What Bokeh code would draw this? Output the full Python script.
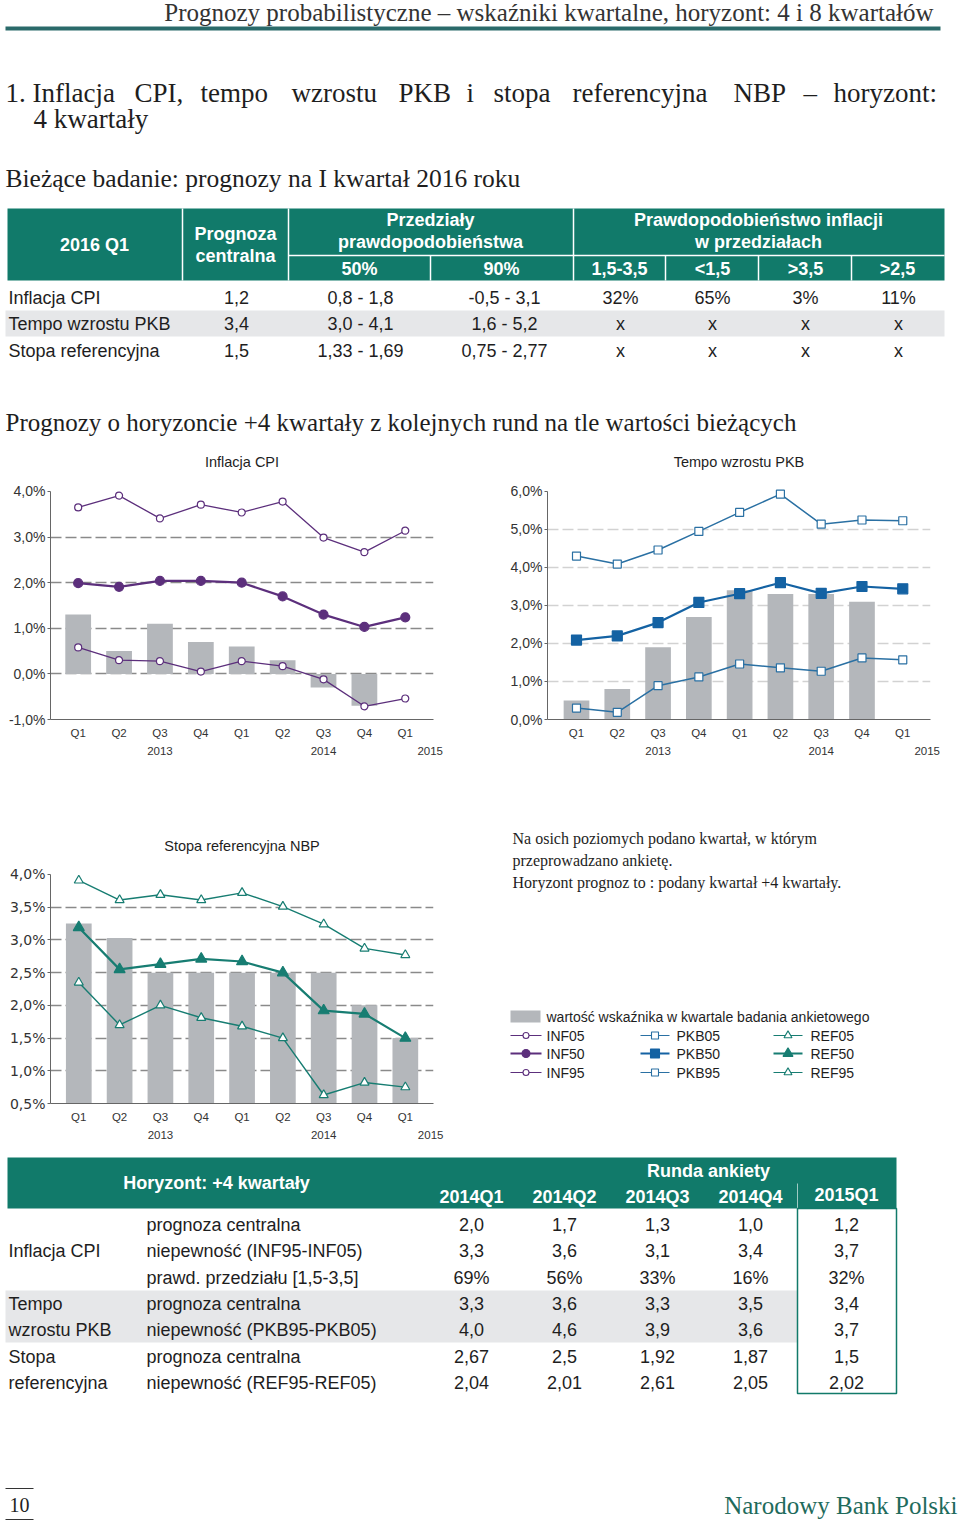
from bokeh.plotting import figure
from bokeh.layouts import column, row
from bokeh.models import Range1d, FixedTicker, LinearAxis
from bokeh.core.properties import value
from bokeh.embed import file_html
from bokeh.resources import INLINE

# ---------------- data ----------------
quarters = ["Q1", "Q2", "Q3", "Q4", "Q1", "Q2", "Q3", "Q4", "Q1"]
years = ["2013", "2014", "2015"]

cpi_actual = [1.3, 0.5, 1.1, 0.7, 0.6, 0.3, -0.3, -0.7]
inf95 = [3.65, 3.91, 3.41, 3.71, 3.54, 3.78, 2.99, 2.67, 3.14]
inf50 = [1.99, 1.91, 2.04, 2.04, 2.0, 1.7, 1.3, 1.03, 1.24]
inf05 = [0.58, 0.30, 0.28, 0.05, 0.28, 0.17, -0.12, -0.71, -0.54]

pkb_actual = [0.5, 0.8, 1.9, 2.7, 3.4, 3.3, 3.3, 3.1]
pkb95 = [4.30, 4.09, 4.46, 4.95, 5.45, 5.93, 5.14, 5.25, 5.23]
pkb50 = [2.09, 2.20, 2.55, 3.08, 3.31, 3.60, 3.32, 3.50, 3.44]
pkb05 = [0.30, 0.19, 0.89, 1.12, 1.46, 1.36, 1.27, 1.62, 1.57]

ref_actual = [3.25, 3.03, 2.5, 2.5, 2.5, 2.5, 2.5, 2.0, 1.5]
ref95 = [3.91, 3.61, 3.69, 3.61, 3.72, 3.51, 3.24, 2.87, 2.77]
ref50 = [3.19, 2.55, 2.63, 2.71, 2.67, 2.50, 1.92, 1.87, 1.50]
ref05 = [2.35, 1.70, 2.00, 1.81, 1.68, 1.50, 0.63, 0.82, 0.75]

cpi_yticks = [-1, 0, 1, 2, 3, 4]
pkb_yticks = [0, 1, 2, 3, 4, 5, 6]
ref_yticks = [0.5, 1.0, 1.5, 2.0, 2.5, 3.0, 3.5, 4.0]

t1_rows = ["Inflacja CPI", "Tempo wzrostu PKB", "Stopa referencyjna"]
t1_central = ["1,2", "3,4", "1,5"]
t1_50 = ["0,8 - 1,8", "3,0 - 4,1", "1,33 - 1,69"]
t1_90 = ["-0,5 - 3,1", "1,6 - 5,2", "0,75 - 2,77"]
t1_p1535 = ["32%", "x", "x"]
t1_plt15 = ["65%", "x", "x"]
t1_pgt35 = ["3%", "x", "x"]
t1_pgt25 = ["11%", "x", "x"]
t1_sub = ["50%", "90%", "1,5-3,5", "<1,5", ">3,5", ">2,5"]

t2_rounds = ["2014Q1", "2014Q2", "2014Q3", "2014Q4", "2015Q1"]
t2_groups = ["Inflacja CPI", "Tempo", "wzrostu PKB", "Stopa", "referencyjna"]
t2_desc = ["prognoza centralna", "niepewność (INF95-INF05)", "prawd. przedziału [1,5-3,5]",
           "prognoza centralna", "niepewność (PKB95-PKB05)",
           "prognoza centralna", "niepewność (REF95-REF05)"]
t2_values = [
    ["2,0", "1,7", "1,3", "1,0", "1,2"],
    ["3,3", "3,6", "3,1", "3,4", "3,7"],
    ["69%", "56%", "33%", "16%", "32%"],
    ["3,3", "3,6", "3,3", "3,5", "3,4"],
    ["4,0", "4,6", "3,9", "3,6", "3,7"],
    ["2,67", "2,5", "1,92", "1,87", "1,5"],
    ["2,04", "2,01", "2,61", "2,05", "2,02"],
]

# ---------------- styles ----------------
SERIF = "Liberation Serif"
SANS = "Liberation Sans"
TEAL = "#117a6a"
RULE = "#2a6a6a"
BAND = "#e6e7e9"
BAR = "#b4b7bb"
PURPLE = "#5c2f7c"
BLUE = "#1462a3"
BLUE_L = "#2a70a3"
GREEN = "#177d72"
INK = "#1e1e1e"


def page_fig(w, h, x0, x1, y0, y1, **kw):
    opts = dict(min_border=0)
    opts.update(kw)
    p = figure(width=w, height=h, x_range=Range1d(x0, x1), y_range=Range1d(y1, y0),
               output_backend="svg", toolbar_location=None, title=None,
               x_axis_location=None, y_axis_location=None, **opts)
    p.outline_line_color = None
    p.grid.visible = False
    return p


def txt(p, x, y, s, size, font=SANS, color=INK, align="left", style="normal", baseline="middle"):
    p.text(x=[x], y=[y], text=[s], text_font=value(font), text_font_size=f"{size}px",
           text_color=color, text_align=align, text_baseline=baseline, text_font_style=style)


def pct(t):
    return f"{t:.1f}".replace(".", ",") + "%"


def chart(w, h, bl, br, bb, xr, yr, yticks, gticks, gcolor, yfont, title, title_y, year_pos):
    # frame starts at the top edge of the figure; the value axis is bounded to its ticks
    p = figure(width=w, height=h, x_range=Range1d(*xr), y_range=Range1d(*yr),
               output_backend="svg", toolbar_location=None, title=None,
               min_border_left=bl, min_border_right=br, min_border_top=0, min_border_bottom=bb)
    p.outline_line_color = None
    p.xgrid.visible = False
    p.ygrid.ticker = FixedTicker(ticks=gticks)
    p.ygrid.grid_line_color = gcolor
    p.ygrid.grid_line_dash = "11 4"
    p.ygrid.grid_line_width = 1.3
    ya = p.yaxis[0]
    ya.bounds = (yticks[0], yticks[-1])
    ya.ticker = FixedTicker(ticks=yticks)
    ya.major_label_overrides = {t: pct(t) for t in yticks}
    ya.major_tick_out = 3
    ya.major_tick_in = 0
    ya.minor_tick_line_color = None
    ya.major_label_standoff = 2
    ya.major_label_text_font = yfont
    ya.major_label_text_font_size = "14px"
    ya.major_label_text_color = "#333333"
    ya.axis_line_color = "#666666"
    ya.major_tick_line_color = "#666666"
    xa = p.xaxis[0]
    xs = list(range(1, len(quarters) + 1))
    xa.ticker = FixedTicker(ticks=xs)
    xa.major_label_overrides = {i: q for i, q in zip(xs, quarters)}
    xa.major_tick_line_color = None
    xa.major_tick_out = 0
    xa.major_tick_in = 0
    xa.minor_tick_line_color = None
    xa.major_label_standoff = 7
    xa.major_label_text_font = SANS
    xa.major_label_text_font_size = "11.5px"
    xa.major_label_text_color = "#333333"
    xa.axis_line_color = "#666666"
    ya2 = LinearAxis(ticker=FixedTicker(ticks=year_pos),
                     major_label_overrides={yp: yl for yp, yl in zip(year_pos, years)},
                     axis_line_color=None, major_tick_line_color=None, minor_tick_line_color=None,
                     major_tick_out=0, major_tick_in=0,
                     major_label_standoff=5, major_label_text_font=SANS,
                     major_label_text_font_size="11.5px", major_label_text_color="#333333")
    p.add_layout(ya2, "below")
    p.text(x=[(xr[0] + xr[1]) / 2], y=[title_y], text=[title], text_font=value(SANS),
           text_font_size="14.5px", text_color=INK, text_align="center", text_baseline="middle")
    return p, xs


# ---------------- figure A: header + table 1 ----------------
A = page_fig(960, 440, 0, 960, 0, 440)
txt(A, 933, 12, "Prognozy probabilistyczne – wskaźniki kwartalne, horyzont: 4 i 8 kwartałów",
    25, font=SERIF, color="#333333", align="right")
A.quad(left=[5], right=[940], top=[26], bottom=[30], fill_color=RULE, line_color=None)

heading_words = ["1. Inflacja", "CPI,", "tempo", "wzrostu", "PKB", "i", "stopa", "referencyjna", "NBP", "–", "horyzont:"]
heading_x = [5, 134, 200, 291, 398, 466, 493, 572, 733, 803, 833]
for wd, hx in zip(heading_words, heading_x):
    txt(A, hx, 92, wd, 27, font=SERIF)
txt(A, 33, 118, "4 kwartały", 27, font=SERIF)
txt(A, 5, 178, "Bieżące badanie: prognozy na I kwartał 2016 roku", 25.5, font=SERIF)

# table 1 header
A.quad(left=[7], right=[944], top=[208], bottom=[280], fill_color=TEAL, line_color=None)
A.segment(x0=[182, 288, 573, 288, 430, 665, 758, 851],
          y0=[208, 208, 208, 255, 255, 255, 255, 255],
          x1=[182, 288, 573, 944, 430, 665, 758, 851],
          y1=[280, 280, 280, 255, 280, 280, 280, 280],
          line_color="white", line_width=1.5)
W = "white"
txt(A, 94, 244, "2016 Q1", 18, color=W, align="center", style="bold")
txt(A, 235, 233, "Prognoza", 18, color=W, align="center", style="bold")
txt(A, 235, 255, "centralna", 18, color=W, align="center", style="bold")
txt(A, 430, 219, "Przedziały", 18, color=W, align="center", style="bold")
txt(A, 430, 241, "prawdopodobieństwa", 18, color=W, align="center", style="bold")
txt(A, 758, 219, "Prawdopodobieństwo inflacji", 18, color=W, align="center", style="bold")
txt(A, 758, 241, "w przedziałach", 18, color=W, align="center", style="bold")
sub_x = [359, 501, 619, 712, 805, 897]
for s, sx in zip(t1_sub, sub_x):
    txt(A, sx, 268, s, 18, color=W, align="center", style="bold")

# table 1 body
A.quad(left=[5], right=[944], top=[310], bottom=[336], fill_color=BAND, line_color=None)
row_y = [297, 323, 350]
col_x = [236, 360, 504, 620, 712, 805, 898]
cols = [t1_central, t1_50, t1_90, t1_p1535, t1_plt15, t1_pgt35, t1_pgt25]
for i, (rl, ry) in enumerate(zip(t1_rows, row_y)):
    txt(A, 8, ry, rl, 18)
    for c, cx in zip(cols, col_x):
        txt(A, cx, ry, c[i], 18, align="center")

txt(A, 5, 422, "Prognozy o horyzoncie +4 kwartały z kolejnych rund na tle wartości bieżących",
    25, font=SERIF)

# ---------------- charts ----------------
cpi, xs = chart(480, 330, 50, 47, 51, (0.323, 9.69), (-1, 5.1184), cpi_yticks, [0, 1, 2, 3],
                "#8a8a8a", SANS, "Inflacja CPI", 4.6425, [3, 7, 9.61])
cpi.vbar(x=xs[:len(cpi_actual)], top=cpi_actual, bottom=0, width=0.63, fill_color=BAR, line_color=None)
for ser, filled in ((inf95, False), (inf50, True), (inf05, False)):
    cpi.line(xs, ser, line_color=PURPLE, line_width=2.2 if filled else 1.3)
    cpi.scatter(xs, ser, marker="circle", size=9 if filled else 7,
                fill_color=PURPLE if filled else "white", line_color=PURPLE, line_width=1.2)

pkb, xs = chart(480, 330, 67, 30, 51, (0.289, 9.68), (0, 7.3421), pkb_yticks, [1, 2, 3, 4, 5],
                "#d2d2d2", SANS, "Tempo wzrostu PKB", 6.771, [3, 7, 9.6])
pkb.vbar(x=xs[:len(pkb_actual)], top=pkb_actual, bottom=0, width=0.63, fill_color=BAR, line_color=None)
for ser, filled in ((pkb95, False), (pkb50, True), (pkb05, False)):
    col = BLUE if filled else BLUE_L
    pkb.line(xs, ser, line_color=col, line_width=2.2 if filled else 1.5)
    pkb.scatter(xs, ser, marker="square", size=10 if filled else 8,
                fill_color=col if filled else "white", line_color=col, line_width=1.2)

ref, xs = chart(480, 380, 50, 47, 47, (0.307, 9.69), (0.5, 5.5895), ref_yticks,
                [1.0, 1.5, 2.0, 2.5, 3.0, 3.5], "#8a8a8a", "DejaVu Sans", "Stopa referencyjna NBP",
                4.428, [3, 7, 9.62])
ref.vbar(x=xs[:len(ref_actual)], top=ref_actual, bottom=0, width=0.63, fill_color=BAR, line_color=None)
for ser, filled in ((ref95, False), (ref50, True), (ref05, False)):
    ref.line(xs, ser, line_color=GREEN, line_width=2.2 if filled else 1.4)
    ref.scatter(xs, ser, marker="triangle", size=11 if filled else 9,
                fill_color=GREEN if filled else "white", line_color=GREEN, line_width=1.2)

# ---------------- legend / note panel (frame aligned with the rate chart) ----------------
L = page_fig(480, 380, 480, 960, 770, 1103, min_border_top=0, min_border_bottom=47,
             min_border_left=0, min_border_right=0)
notes = ["Na osich poziomych podano kwartał, w którym", "przeprowadzano ankietę.",
         "Horyzont prognoz to : podany kwartał +4 kwartały."]
for s, ny in zip(notes, [838, 860, 882]):
    txt(L, 512, ny, s, 16, font=SERIF)
L.quad(left=[510], right=[540], top=[1010], bottom=[1022], fill_color=BAR, line_color=None)
txt(L, 546, 1016, "wartość wskaźnika w kwartale badania ankietowego", 14)
leg_y = [1035, 1053, 1072]
groups = [
    (["INF05", "INF50", "INF95"], PURPLE, PURPLE, "circle", 510, 541, 546, (6, 8)),
    (["PKB05", "PKB50", "PKB95"], BLUE_L, BLUE, "square", 640, 669, 676, (7, 9)),
    (["REF05", "REF50", "REF95"], GREEN, GREEN, "triangle", 773, 802, 810, (8, 10)),
]
for names, c_out, c_mid, mk, lx0, lx1, tx, (s_out, s_mid) in groups:
    for j, (nm, ly) in enumerate(zip(names, leg_y)):
        mid = j == 1
        col = c_mid if mid else c_out
        L.segment(x0=[lx0], y0=[ly], x1=[lx1], y1=[ly], line_color=col, line_width=2 if mid else 1.2)
        L.scatter([(lx0 + lx1) / 2], [ly], marker=mk, size=s_mid if mid else s_out,
                  fill_color=col if mid else "white", line_color=col, line_width=1.1)
        txt(L, tx, ly, nm, 14)

# ---------------- figure D: table 2 + footer ----------------
D = page_fig(960, 372, 0, 960, 1150, 1522)
D.quad(left=[7], right=[896], top=[1157], bottom=[1208], fill_color=TEAL, line_color=None)
D.segment(x0=[797], y0=[1183], x1=[797], y1=[1208], line_color="white", line_width=1, line_alpha=0.6)
D.quad(left=[5], right=[797], top=[1290], bottom=[1342], fill_color=BAND, line_color=None)
D.quad(left=[797], right=[896], top=[1208], bottom=[1393], fill_color=None, line_color=TEAL, line_width=1.5)
txt(D, 216, 1182, "Horyzont: +4 kwartały", 18, color=W, align="center", style="bold")
txt(D, 708, 1170, "Runda ankiety", 18, color=W, align="center", style="bold")
rx = [471, 564, 657, 750, 846]
for r, x in zip(t2_rounds, rx):
    txt(D, x, 1194 if r == t2_rounds[-1] else 1196, r, 18, color=W, align="center", style="bold")
desc_y = [1224, 1250, 1277, 1303, 1329, 1356, 1382]
for g, gy in zip(t2_groups, [1250, 1303, 1329, 1356, 1382]):
    txt(D, 8, gy, g, 18)
for d, dy, vals in zip(t2_desc, desc_y, t2_values):
    txt(D, 146, dy, d, 18)
    for v, x in zip(vals, rx):
        txt(D, x, dy, v, 18, align="center")

D.segment(x0=[5, 5], y0=[1488, 1519], x1=[33, 33], y1=[1488, 1519], line_color="#333333", line_width=1.2)
txt(D, 19, 1504, "10", 20, font=SERIF, align="center")
txt(D, 957, 1505, "Narodowy Bank Polski", 25, font=SERIF, color="#1f6b5c", align="right")

layout = column(A, row(cpi, pkb), row(ref, L), D)
open("out.html", "w").write(file_html(layout, INLINE))
